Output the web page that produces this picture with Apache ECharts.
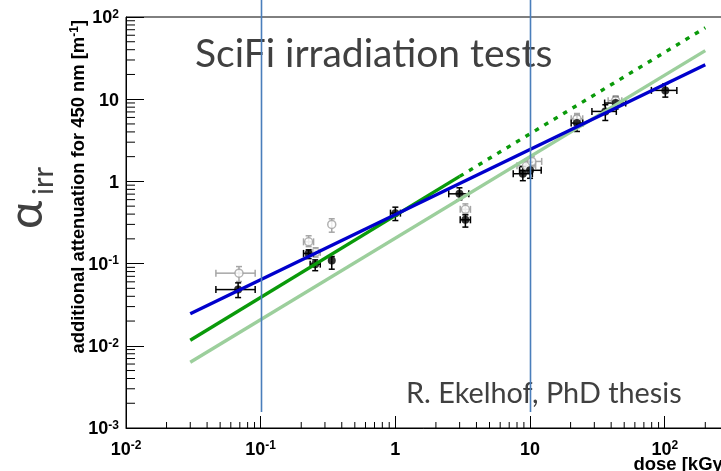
<!DOCTYPE html>
<html><head><meta charset="utf-8">
<script src="https://cdn.jsdelivr.net/npm/echarts@6/dist/echarts.min.js"></script>
<style>html,body{margin:0;padding:0;background:#fff}#c{width:721px;height:471px}</style>
</head><body><div id="c"></div>
<script>
// ---------------- data ----------------
const DOSE_MIN = 0.01, DOSE_MAX = 300, ATT_MIN = 0.001, ATT_MAX = 100;
const xTicks = [0.01, 0.1, 1, 10, 100];
const xTickLabels = ['10^-2', '10^-1', '1', '10', '10^2'];
const yTicks = [0.001, 0.01, 0.1, 1, 10, 100];
const yTickLabels = ['10^-3', '10^-2', '10^-1', '1', '10', '10^2'];
const minorMultipliers = [2, 3, 4, 5, 6, 7, 8, 9];

// fits (straight lines in log-log)
const fitDose = [0.03, 200];
const blueFit = [0.0246, 26.3];
const greenDose = [0.03, 3];
const greenFit = [0.0117, 1.15];
const greenExtrapDose = [3, 200];
const greenExtrap = [1.15, 74];
const lightGreenFit = [0.0063, 39];

// black (filled) measurements
const blackDose   = [0.068, 0.227, 0.254, 0.337, 1.0, 2.99, 3.31, 8.84, 10.0, 22.3, 36.2, 43.2, 101];
const blackAtt    = [0.0483, 0.133, 0.0985, 0.109, 0.411, 0.706, 0.341, 1.24, 1.365, 5.13, 7.1, 8.98, 12.8];
const blackDoseLo = [0.0465, 0.208, 0.233, 0.337, 0.92, 2.49, 3.03, 7.5, 8.36, 20.2, 28.8, 35.8, 79.6];
const blackDoseHi = [0.091, 0.247, 0.277, 0.337, 1.09, 3.51, 3.61, 10.4, 12.1, 24.6, 43.7, 51.3, 123];
const blackAttLo  = [0.0386, 0.115, 0.082, 0.0855, 0.334, 0.597, 0.278, 1.02, 1.09, 4.05, 5.51, 7.59, 10.6];
const blackAttHi  = [0.0583, 0.147, 0.111, 0.122, 0.486, 0.836, 0.392, 1.51, 1.71, 6.34, 8.56, 10.6, 15.4];

// grey (open) measurements
const greyDose   = [0.069, 0.227, 0.256, 0.337, 3.31, 9.4, 10.3, 22.3, 43.2];
const greyAtt    = [0.0765, 0.184, 0.137, 0.30, 0.457, 1.55, 1.75, 5.78, 9.6];
const greyDoseLo = [0.0465, 0.208, 0.236, 0.337, 3.03, 8.0, 9.2, 20.2, 38];
const greyDoseHi = [0.091, 0.247, 0.277, 0.337, 3.61, 11.0, 12.2, 24.6, 48];
const greyAttLo  = [0.0605, 0.161, 0.120, 0.241, 0.40, 1.33, 1.5, 4.9, 8.3];
const greyAttHi  = [0.092, 0.218, 0.156, 0.351, 0.533, 1.8, 2.0, 6.7, 11];

const markerLines = [0.1, 10];
const titleText = 'SciFi irradiation tests';
const creditText = 'R. Ekelhof, PhD thesis';

// ---------------- helpers ----------------
function toRich(lbl) {
  const p = lbl.split('^');
  return p.length > 1 ? '{b|' + p[0] + '}{s|' + p[1] + '}' : '{b|' + p[0] + '}';
}
function tickFormatter(ticks, labels) {
  return function (v) {
    for (let i = 0; i < ticks.length; i++) {
      if (Math.abs(Math.log10(v) - Math.log10(ticks[i])) < 1e-6) return toRich(labels[i]);
    }
    return '';
  };
}
const labelRich = {
  b: { fontFamily: 'Liberation Sans', fontWeight: 'bold', fontSize: 18, lineHeight: 20, color: '#000' },
  s: { fontFamily: 'Liberation Sans', fontWeight: 'bold', fontSize: 12, lineHeight: 12, verticalAlign: 'top', color: '#000' }
};
function minorValues(lo, hi) {
  const out = [];
  for (let e = Math.floor(Math.log10(lo)); e <= Math.ceil(Math.log10(hi)); e++) {
    minorMultipliers.forEach(m => { const v = m * Math.pow(10, e); if (v > lo && v <= hi) out.push(v); });
  }
  return out;
}
function errData(x, y, xl, xh, yl, yh) { return x.map((v, i) => [v, y[i], xl[i], xh[i], yl[i], yh[i]]); }
function errRender(color) {
  return function (params, api) {
    const x = api.value(0), y = api.value(1), xl = api.value(2), xh = api.value(3), yl = api.value(4), yh = api.value(5);
    const st = { stroke: color, lineWidth: 1.5 };
    const ch = [];
    const c = api.coord([x, y]);
    if (xl < x) { const p = api.coord([xl, y]); ch.push({ type: 'line', shape: { x1: p[0], y1: c[1], x2: c[0], y2: c[1] }, style: st }); ch.push({ type: 'line', shape: { x1: p[0], y1: c[1] - 3.5, x2: p[0], y2: c[1] + 3.5 }, style: st }); }
    if (xh > x) { const p = api.coord([xh, y]); ch.push({ type: 'line', shape: { x1: c[0], y1: c[1], x2: p[0], y2: c[1] }, style: st }); ch.push({ type: 'line', shape: { x1: p[0], y1: c[1] - 3.5, x2: p[0], y2: c[1] + 3.5 }, style: st }); }
    if (yl < y) { const p = api.coord([x, yl]); ch.push({ type: 'line', shape: { x1: c[0], y1: c[1], x2: c[0], y2: p[1] }, style: st }); ch.push({ type: 'line', shape: { x1: c[0] - 3, y1: p[1], x2: c[0] + 3, y2: p[1] }, style: st }); }
    if (yh > y) { const p = api.coord([x, yh]); ch.push({ type: 'line', shape: { x1: c[0], y1: p[1], x2: c[0], y2: c[1] }, style: st }); ch.push({ type: 'line', shape: { x1: c[0] - 3, y1: p[1], x2: c[0] + 3, y2: p[1] }, style: st }); }
    return { type: 'group', children: ch };
  };
}
function fitLine(name, xs, ys, color, dash) {
  return {
    type: 'line', name: name, data: xs.map((v, i) => [v, ys[i]]), showSymbol: false, symbol: 'none', silent: true,
    lineStyle: { color: color, width: 3.4, type: dash || 'solid', cap: 'butt' }, emphasis: { disabled: true }
  };
}

const chart = echarts.init(document.getElementById('c'), null, { renderer: 'canvas' });
chart.setOption({
  animation: false,
  backgroundColor: '#fff',
  grid: { left: 126, top: 17, width: 603, height: 411, show: true, borderColor: '#000', borderWidth: 1,
          backgroundColor: 'transparent', containLabel: false, outerBoundsMode: 'none' },
  xAxis: {
    type: 'log', logBase: 10, min: DOSE_MIN, max: DOSE_MAX,
    axisLine: { lineStyle: { color: '#000', width: 1 } },
    axisTick: { inside: true, length: 12, lineStyle: { color: '#000', width: 1 } },
    axisLabel: { formatter: tickFormatter(xTicks, xTickLabels), rich: labelRich, margin: 12, showMinLabel: true, showMaxLabel: true, hideOverlap: false },
    splitLine: { show: false }
  },
  yAxis: {
    type: 'log', logBase: 10, min: ATT_MIN, max: ATT_MAX,
    axisLine: { lineStyle: { color: '#000', width: 1 } },
    axisTick: { inside: true, length: 18, lineStyle: { color: '#000', width: 1 } },
    axisLabel: { formatter: tickFormatter(yTicks, yTickLabels), rich: labelRich, margin: 7, padding: [3, 0, 0, 0], showMinLabel: true, showMaxLabel: true, hideOverlap: false },
    splitLine: { show: false }
  },
  series: [
    { type: 'custom', silent: true, data: minorValues(DOSE_MIN, DOSE_MAX).map(v => [v, ATT_MIN]),
      renderItem: (p, api) => { const c = api.coord([api.value(0), api.value(1)]); return { type: 'line', shape: { x1: c[0], y1: c[1], x2: c[0], y2: c[1] - 6 }, style: { stroke: '#000', lineWidth: 1 } }; } },
    { type: 'custom', silent: true, data: minorValues(ATT_MIN, ATT_MAX).map(v => [DOSE_MIN, v]),
      renderItem: (p, api) => { const c = api.coord([api.value(0), api.value(1)]); return { type: 'line', shape: { x1: c[0], y1: c[1], x2: c[0] + 9, y2: c[1] }, style: { stroke: '#000', lineWidth: 1 } }; } },
    fitLine('light green', fitDose, lightGreenFit, '#9ccf9c'),
    fitLine('green', greenDose, greenFit, '#0a9a0a'),
    fitLine('green extrapolation', greenExtrapDose, greenExtrap, '#0a9a0a', [4.5, 6.5]),
    fitLine('blue', fitDose, blueFit, '#0000cc'),
    { type: 'custom', silent: true, encode: { x: 0, y: 1 }, data: errData(greyDose, greyAtt, greyDoseLo, greyDoseHi, greyAttLo, greyAttHi), renderItem: errRender('#a6a6a6') },
    { type: 'scatter', silent: true, data: greyDose.map((v, i) => [v, greyAtt[i]]), symbol: 'circle', symbolSize: 8,
      itemStyle: { color: '#fff', borderColor: '#a0a0a0', borderWidth: 1.5 } },
    { type: 'custom', silent: true, encode: { x: 0, y: 1 }, data: errData(blackDose, blackAtt, blackDoseLo, blackDoseHi, blackAttLo, blackAttHi), renderItem: errRender('#000') },
    { type: 'scatter', silent: true, data: blackDose.map((v, i) => [v, blackAtt[i]]), symbol: 'circle', symbolSize: 8,
      itemStyle: { color: '#000' } }
  ]
});

const xp = v => chart.convertToPixel({ xAxisIndex: 0 }, v);
const graphics = markerLines.map(v => ({
  type: 'line', z: 100, silent: true,
  shape: { x1: Math.round(xp(v)) + 0.5, y1: 0, x2: Math.round(xp(v)) + 0.5, y2: 412 },
  style: { stroke: '#4a7ebb', lineWidth: 1.6 }
}));
graphics.push(
  { type: 'text', z: 90, x: 195, y: 54, style: { text: titleText, fontFamily: 'Lato', fontSize: 39, fill: '#404040', align: 'left', verticalAlign: 'middle' } },
  { type: 'text', z: 90, x: 406, y: 394, style: { text: creditText, fontFamily: 'Lato', fontSize: 28.8, fill: '#404040', align: 'left', verticalAlign: 'middle' } },
  { type: 'text', z: 90, x: 27, y: 229, rotation: Math.PI / 2, style: { text: 'α', fontFamily: 'Lato, "Noto Sans"', fontSize: 48, fill: '#404040', align: 'left', verticalAlign: 'middle' } },
  { type: 'text', z: 90, x: 44, y: 195, rotation: Math.PI / 2, style: { text: 'irr', fontFamily: 'Lato, "Noto Sans"', fontSize: 29, fill: '#404040', align: 'left', verticalAlign: 'middle' } },
  { type: 'text', z: 90, x: 79, y: 20, rotation: Math.PI / 2, style: {
      text: '{t|additional attenuation for 450 nm [m}{s|-1}{t|]}', align: 'right', verticalAlign: 'middle',
      rich: { t: { fontFamily: 'Liberation Sans', fontWeight: 'bold', fontSize: 18.4, lineHeight: 20, fill: '#000' },
              s: { fontFamily: 'Liberation Sans', fontWeight: 'bold', fontSize: 12, lineHeight: 12, verticalAlign: 'top', fill: '#000' } } } },
  { type: 'text', z: 90, x: xp(DOSE_MAX), y: 465, style: { text: 'dose [kGy]', fontFamily: 'Liberation Sans', fontWeight: 'bold', fontSize: 18.5, fill: '#000', align: 'right', verticalAlign: 'middle' } }
);
chart.setOption({ graphic: graphics });
</script>
</body></html>
